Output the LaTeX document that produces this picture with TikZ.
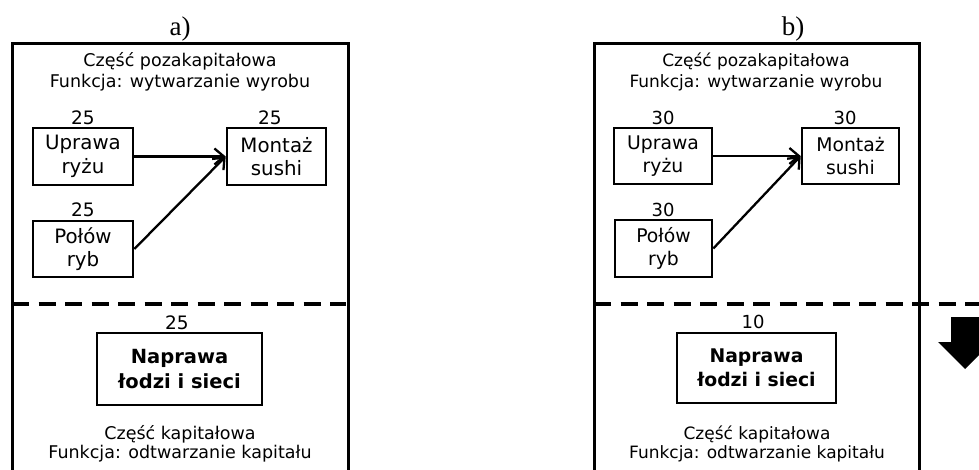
\documentclass[tikz,border=0pt]{standalone}
\usepackage{fontspec}
\usetikzlibrary{arrows.meta}
\newfontfamily\vfont{DejaVu Sans}
\newfontfamily\tfont{Liberation Serif}
\tikzset{
  frame/.style={line width=3pt, line cap=rect},
  divider/.style={line width=3.2pt, dash pattern=on 17pt off 9.5pt},
  title/.style={font=\tfont\fontsize{27}{30}\selectfont, inner sep=0},
  headA/.style={font=\vfont\fontsize{17.5}{21}\selectfont, align=center, inner sep=0},
  headB/.style={font=\vfont\fontsize{17}{20.5}\selectfont, align=center, inner sep=0},
  footA/.style={font=\vfont\fontsize{17.5}{18.5}\selectfont, align=center, inner sep=0},
  footB/.style={font=\vfont\fontsize{17}{18.5}\selectfont, align=center, inner sep=0},
  numA/.style={font=\vfont\fontsize{18.5}{20}\selectfont, inner sep=0},
  numB/.style={font=\vfont\fontsize{18}{20}\selectfont, inner sep=0},
  procA/.style={draw, line width=2.6pt, align=center, inner sep=0,
    font=\vfont\fontsize{19.8}{23.5}\selectfont},
  procB/.style={draw, line width=2.6pt, align=center, inner sep=0,
    font=\vfont\fontsize{18.8}{22.5}\selectfont},
  repA/.style={draw, line width=2.6pt, align=center, inner sep=0,
    font=\vfont\bfseries\fontsize{19.5}{25}\selectfont},
  repB/.style={draw, line width=2.6pt, align=center, inner sep=0,
    font=\vfont\bfseries\fontsize{18.8}{24}\selectfont},
  flow/.style={line width=2.3pt, -{Straight Barb[length=9.5pt,width=16pt]}},
}
\begin{document}
\begin{tikzpicture}[x=1pt,y=-1pt]
\useasboundingbox (0,0) rectangle (979,470);

% ---------- panel a ----------
\node[title] (ta) at (180,29) {a)};
\coordinate (aBL) at (12,472);
\coordinate (aTL) at (12,43.5);
\coordinate (aTR) at (348,43.5);
\coordinate (aBR) at (348,472);
\draw[frame] (aBL) -- (aTL) -- (aTR) -- (aBR);
\coordinate (aDL) at (12,304);
\coordinate (aDR) at (346,304);
\draw[divider] (aDL) -- (aDR);

\node[headA] (ha) at (180,72) {Część pozakapitałowa\\Funkcja: wytwarzanie wyrobu};

\node[procA, minimum width=100pt, minimum height=57pt] (ua) at (83,156.5) {Uprawa\\ryżu};
\node[procA, minimum width=99pt, minimum height=57pt] (ma) at (276.5,156.5) {Montaż\\sushi};
\node[procA, minimum width=100pt, minimum height=56pt] (pa) at (83,249) {Połów\\ryb};
\node[numA] (nua) at (83,118) {25};
\node[numA] (nma) at (270,118) {25};
\node[numA] (npa) at (83,210) {25};
\draw[flow] (ua.east) -- (ma.west);
\draw[flow] (pa.east) -- (ma.west);

\node[numA] (nra) at (177,323) {25};
\node[repA, minimum width=165pt, minimum height=72pt] (ra) at (179.5,369) {Naprawa\\łodzi i sieci};
\node[footA] (fa) at (180,444) {Część kapitałowa\\Funkcja: odtwarzanie kapitału};

% ---------- panel b ----------
\node[title] (tb) at (793,29) {b)};
\coordinate (bBL) at (594,472);
\coordinate (bTL) at (594,43.5);
\coordinate (bTR) at (919,43.5);
\coordinate (bBR) at (919,472);
\draw[frame] (bBL) -- (bTL) -- (bTR) -- (bBR);
\coordinate (bDL) at (594,304);
\coordinate (bDR) at (985,304);
\draw[divider] (bDL) -- (bDR);

\node[headB] (hb) at (756,72) {Część pozakapitałowa\\Funkcja: wytwarzanie wyrobu};

\node[procB, minimum width=98pt, minimum height=56pt] (ub) at (663,156) {Uprawa\\ryżu};
\node[procB, minimum width=97pt, minimum height=56pt] (mb) at (850.5,156) {Montaż\\sushi};
\node[procB, minimum width=97pt, minimum height=57pt] (pb) at (663.5,248.5) {Połów\\ryb};
\node[numB] (nub) at (663,118) {30};
\node[numB] (nmb) at (845,118) {30};
\node[numB] (npb) at (663,210) {30};
\draw[flow] (ub.east) -- (mb.west);
\draw[flow] (pb.east) -- (mb.west);

\node[numB] (nrb) at (753,322) {10};
\node[repB, minimum width=159pt, minimum height=70pt] (rb) at (756.5,368) {Naprawa\\łodzi i sieci};
\node[footB] (fb) at (757,444) {Część kapitałowa\\Funkcja: odtwarzanie kapitału};

% downward block arrow at the right edge
\begin{scope}
  \clip (0,0) rectangle (979,470);
  \fill (951,317) -- (979,317) -- (979,342) -- (992,342) -- (965,369)
        -- (938,342) -- (951,342) -- cycle;
\end{scope}
\end{tikzpicture}
\end{document}
